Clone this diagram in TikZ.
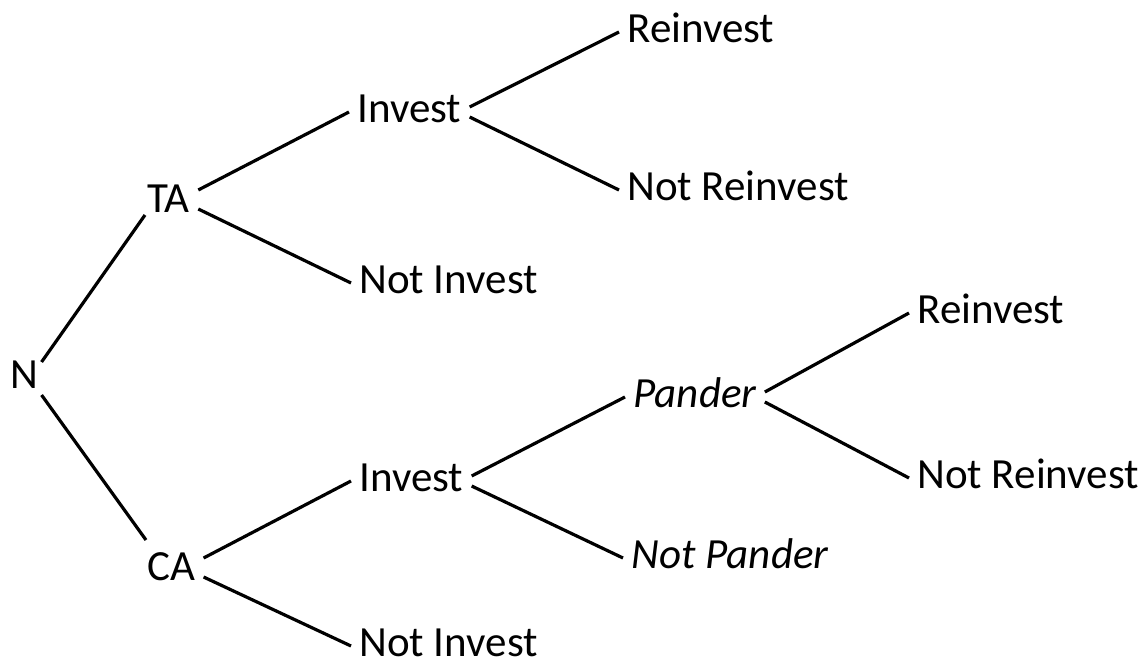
\documentclass[tikz,border=0pt]{standalone}
\usepackage{fontspec}
\setmainfont{Carlito}
\usepackage{tikz}

\begin{document}
\begin{tikzpicture}[x=0.5pt, y=-0.5pt,
            move/.style ={font=\fontsize{21.5}{26}\selectfont, anchor=base west,
                          text height=10pt, text depth=0pt, inner xsep=4pt, inner ysep=0pt},
            pmove/.style={move, font=\fontsize{21.5}{26}\selectfont\itshape},
            edge/.style ={line width=1.6pt, black}
        ]
            \useasboundingbox (0,0) rectangle (1147,664);

            \node[move]  (n)        at (2,388)   {N};
            \node[move]  (ta)       at (139,212) {TA};
            \node[move]  (ca)       at (139,580) {CA};
            \node[move]  (invA)     at (349,122) {Invest};
            \node[move]  (noinvA)   at (351,293) {Not Invest};
            \node[move]  (reinvA)   at (619,42)  {Reinvest};
            \node[move]  (noreinvA) at (619,200) {Not Reinvest};
            \node[move]  (invB)     at (351,491) {Invest};
            \node[move]  (noinvB)   at (351,656) {Not Invest};
            \node[pmove] (pander)   at (625,407) {Pander};
            \node[pmove] (nopander) at (623,568) {Not Pander};
            \node[move]  (reinvB)   at (909,323) {Reinvest};
            \node[move]  (noreinvB) at (909,488) {Not Reinvest};

            \draw[edge] ([xshift=-2.5pt, yshift=8pt]n.east)    -- ([xshift=3pt, yshift=-1.5pt]ta.base west);
            \draw[edge] ([xshift=-2.5pt, yshift=-8.5pt]n.east) -- ([xshift=3.5pt, yshift=20pt]ca.base west);

            \draw[edge] ([yshift=6pt]ta.east)    -- (invA.west);
            \draw[edge] ([yshift=-3.5pt]ta.east) -- (noinvA.west);
            \draw[edge] ([yshift=2.5pt]invA.east)  -- (reinvA.west);
            \draw[edge] ([yshift=-2.5pt]invA.east) -- (noreinvA.west);

            \draw[edge] ([yshift=6pt]ca.east)    -- (invB.west);
            \draw[edge] ([yshift=-3.5pt]ca.east) -- (noinvB.west);
            \draw[edge] ([yshift=2.5pt]invB.east)  -- (pander.west);
            \draw[edge] ([yshift=-2.5pt]invB.east) -- (nopander.west);
            \draw[edge] ([yshift=2.5pt]pander.east)  -- (reinvB.west);
            \draw[edge] ([yshift=-2.5pt]pander.east) -- (noreinvB.west);

        \end{tikzpicture}
\end{document}
